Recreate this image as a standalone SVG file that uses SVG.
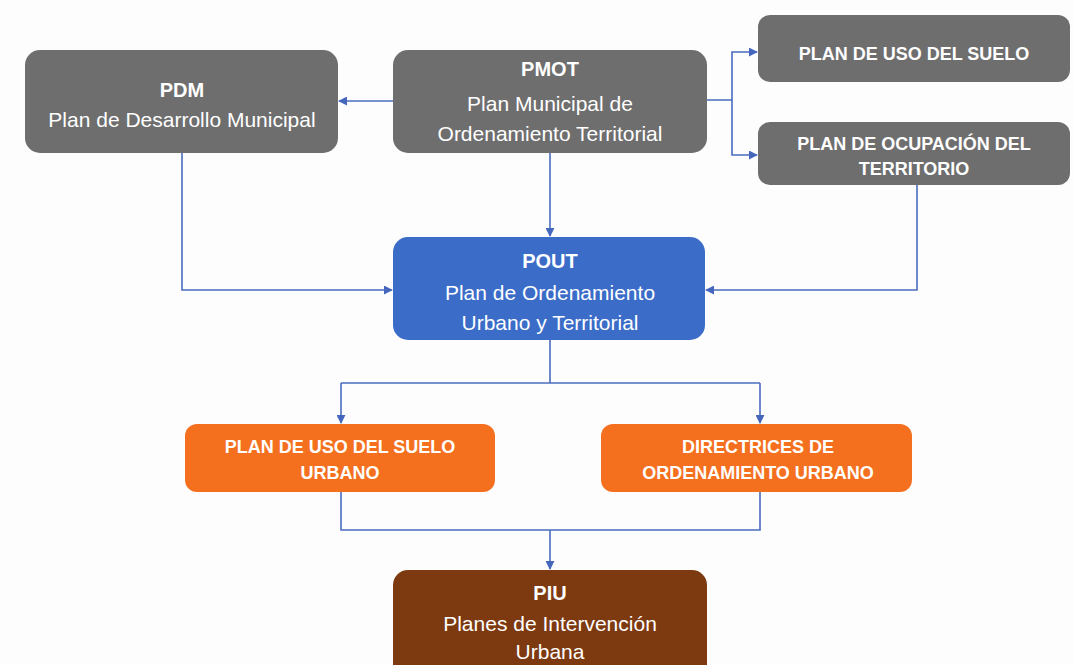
<svg xmlns="http://www.w3.org/2000/svg" width="1073" height="665" viewBox="0 0 1073 665">
  <defs>
    <marker id="arrow" viewBox="0 0 10 10" refX="9" refY="5" markerWidth="9" markerHeight="9" markerUnits="userSpaceOnUse" orient="auto">
      <path d="M0,0 L10,5 L0,10 z" fill="#4467bd"/>
    </marker>
    <style>
      .gray { fill: #6e6e6e; }
      .blue { fill: #3a6cc8; }
      .orange { fill: #f5701e; }
      .brown { fill: #7d3a10; }
      text { font-family: "Liberation Sans", Arial, sans-serif; fill: #ffffff; text-anchor: middle; }
      .title { font-size: 20px; font-weight: bold; }
      .sub { font-size: 21px; }
      .caps { font-size: 18px; font-weight: bold; }
      .conn { fill: none; stroke: #4a6cbf; stroke-width: 1.6; }
    </style>
  </defs>

  <rect width="1073" height="665" fill="#fdfdfd"/>

  <!-- connectors -->
  <g id="connectors">
    <path class="conn" d="M393,101 H339" marker-end="url(#arrow)"/>
    <path class="conn" d="M707,100 H732 V52 H757" marker-end="url(#arrow)"/>
    <path class="conn" d="M732,100 V155 H757" marker-end="url(#arrow)"/>
    <path class="conn" d="M550,153 V236" marker-end="url(#arrow)"/>
    <path class="conn" d="M182,153 V290 H392" marker-end="url(#arrow)"/>
    <path class="conn" d="M917,185 V290 H706" marker-end="url(#arrow)"/>
    <path class="conn" d="M550,340 V383"/>
    <path class="conn" d="M341,383 H760"/>
    <path class="conn" d="M341,383 V423" marker-end="url(#arrow)"/>
    <path class="conn" d="M760,383 V423" marker-end="url(#arrow)"/>
    <path class="conn" d="M341,492 V530 H760 V492"/>
    <path class="conn" d="M550,530 V569" marker-end="url(#arrow)"/>
  </g>

  <!-- PDM -->
  <g id="pdm">
    <rect class="gray" x="25" y="50" width="313" height="103" rx="15"/>
    <text class="title" x="182" y="97">PDM</text>
    <text class="sub" x="182" y="127">Plan de Desarrollo Municipal</text>
  </g>

  <!-- PMOT -->
  <g id="pmot">
    <rect class="gray" x="393" y="50" width="314" height="103" rx="15"/>
    <text class="title" x="550" y="76">PMOT</text>
    <text class="sub" x="550" y="111">Plan Municipal de</text>
    <text class="sub" x="550" y="141">Ordenamiento Territorial</text>
  </g>

  <!-- Plan de uso del suelo -->
  <g id="plan-uso-suelo">
    <rect class="gray" x="758" y="15" width="312" height="67" rx="12"/>
    <text class="caps" x="914" y="60">PLAN DE USO DEL SUELO</text>
  </g>

  <!-- Plan de ocupación del territorio -->
  <g id="plan-ocupacion">
    <rect class="gray" x="758" y="122" width="312" height="63" rx="12"/>
    <text class="caps" x="914" y="150">PLAN DE OCUPACIÓN DEL</text>
    <text class="caps" x="914" y="175">TERRITORIO</text>
  </g>

  <!-- POUT -->
  <g id="pout">
    <rect class="blue" x="393" y="237" width="312" height="103" rx="15"/>
    <text class="title" x="550" y="268">POUT</text>
    <text class="sub" x="550" y="300">Plan de Ordenamiento</text>
    <text class="sub" x="550" y="330">Urbano y Territorial</text>
  </g>

  <!-- Plan de uso del suelo urbano -->
  <g id="plan-uso-suelo-urbano">
    <rect class="orange" x="185" y="424" width="310" height="68" rx="12"/>
    <text class="caps" x="340" y="453">PLAN DE USO DEL SUELO</text>
    <text class="caps" x="340" y="479">URBANO</text>
  </g>

  <!-- Directrices de ordenamiento urbano -->
  <g id="directrices">
    <rect class="orange" x="601" y="424" width="311" height="68" rx="12"/>
    <text class="caps" x="758" y="453">DIRECTRICES DE</text>
    <text class="caps" x="758" y="479">ORDENAMIENTO URBANO</text>
  </g>

  <!-- PIU -->
  <g id="piu">
    <rect class="brown" x="393" y="570" width="314" height="115" rx="15"/>
    <text class="title" x="550" y="600">PIU</text>
    <text class="sub" x="550" y="631">Planes de Intervención</text>
    <text class="sub" x="550" y="659">Urbana</text>
  </g>
</svg>
